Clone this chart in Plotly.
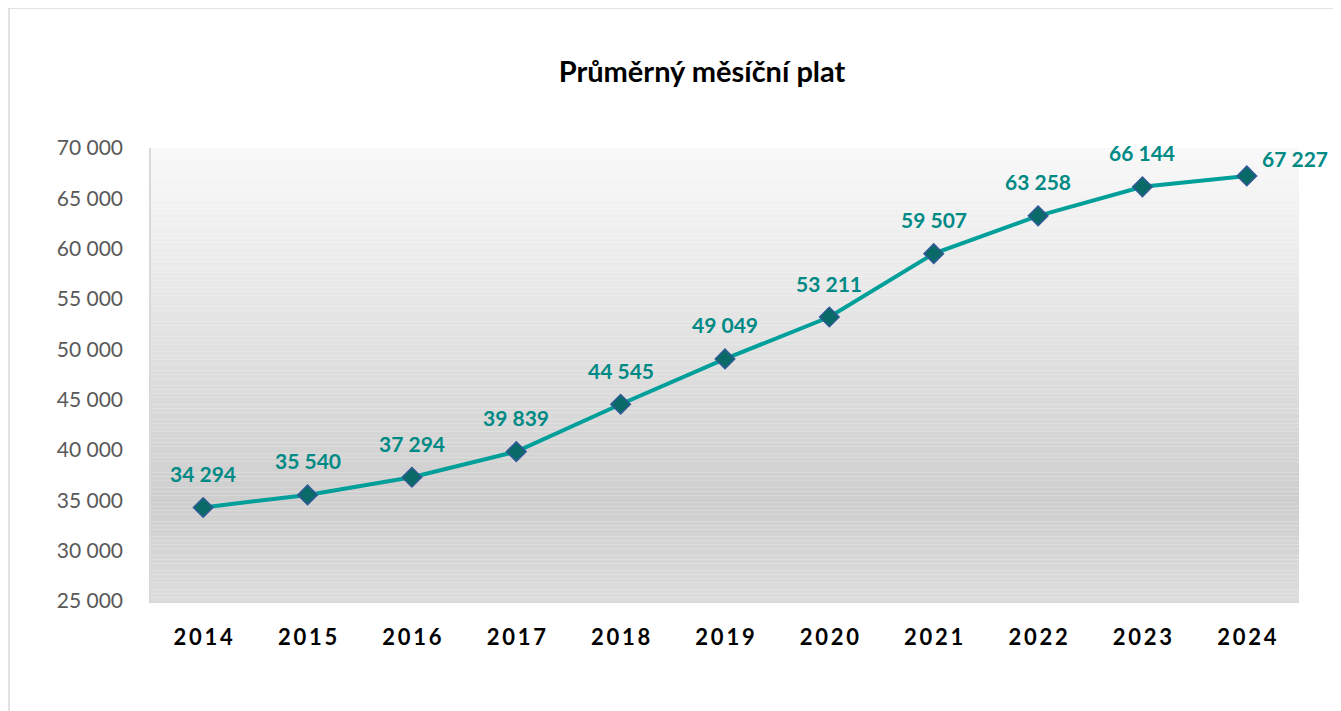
import plotly.graph_objects as go

# data
years = ["2014", "2015", "2016", "2017", "2018", "2019", "2020", "2021", "2022", "2023", "2024"]
salary = [34294, 35540, 37294, 39839, 44545, 49049, 53211, 59507, 63258, 66144, 67227]
y_ticks = [25000, 30000, 35000, 40000, 45000, 50000, 55000, 60000, 65000, 70000]
title_text = "Průměrný měsíční plat"


def fmt(v):
    # Czech style thousands separator (space)
    return "{:,}".format(v).replace(",", " ")


def spaced(s):
    # the year labels in the original are letter-spaced
    return "\u2009".join(s)


def grey_at(t):
    # t = 0 at top of plot area, 1 at bottom
    stops = [(0.0, 249), (0.78, 206), (1.0, 221)]
    for (t0, c0), (t1, c1) in zip(stops[:-1], stops[1:]):
        if t <= t1:
            c = c0 + (c1 - c0) * (t - t0) / (t1 - t0)
            c = int(round(c))
            return "rgb({0},{0},{0})".format(c)
    return "rgb({0},{0},{0})".format(stops[-1][1])


fig = go.Figure()

fig.add_trace(go.Scatter(
    x=years, y=salary, mode="lines+markers",
    line=dict(color="#009f9a", width=4),
    marker=dict(symbol="diamond", size=15, color="#0a6a68",
                line=dict(color="#2f5a96", width=1.5)),
    hoverinfo="skip", showlegend=False,
))

# gradient background of the plot area, built from thin bands
shapes = []
n_bands = 120
for i in range(n_bands):
    t = (i + 0.5) / n_bands
    shapes.append(dict(type="rect", xref="x domain", yref="y domain",
                       x0=0, x1=1, y0=1 - (i + 1) / n_bands, y1=1 - i / n_bands,
                       fillcolor=grey_at(t), line=dict(width=0), layer="below"))

# outer chart frame
shapes.append(dict(type="rect", xref="paper", yref="paper",
                   x0=-0.1237, x1=1.3, y0=-0.6, y1=1.309,
                   line=dict(color="#d9d9d9", width=1.5), fillcolor="rgba(0,0,0,0)"))

# value labels (category axis -> annotation x is the category index)
annotations = []
for i, v in enumerate(salary):
    last = i == len(salary) - 1
    annotations.append(dict(
        x=i, y=v, xref="x", yref="y", text="<b>" + fmt(v) + "</b>",
        showarrow=False, xanchor="center", yanchor="middle",
        xshift=48 if last else 0, yshift=17 if last else 34,
        font=dict(family="Lato", size=21, color="#008a85"),
    ))

fig.update_layout(
    width=1333, height=703,
    margin=dict(l=143, r=42, t=140, b=110),
    paper_bgcolor="white", plot_bgcolor="white",
    title=dict(text="<b>" + title_text + "</b>", x=0.480, xref="paper",
               y=0.909, yref="container", yanchor="middle", xanchor="center",
               font=dict(family="Lato", size=29, color="black")),
    shapes=shapes, annotations=annotations,
    xaxis=dict(type="category", range=[-0.5, 10.5],
               tickvals=years, ticktext=["<b>" + spaced(y) + "</b>" for y in years],
               tickfont=dict(family="Lato", size=22, color="black"),
               showgrid=False, zeroline=False, showline=True, linecolor="#d9d9d9",
               linewidth=1.5, ticks="", ticklabelstandoff=16),
    yaxis=dict(range=[25000, 70000], tickvals=y_ticks,
               ticktext=[fmt(v) for v in y_ticks],
               tickfont=dict(family="Lato", size=21, color="#595959"),
               showgrid=False, zeroline=False, showline=True, linecolor="#d9d9d9",
               linewidth=1.5, ticks="", ticklabelstandoff=22),
)

fig.write_html("out.html")
